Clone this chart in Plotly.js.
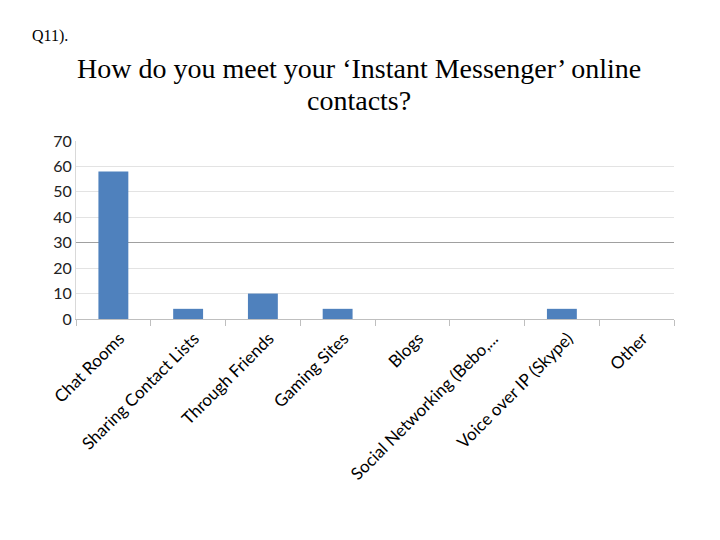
<!DOCTYPE html>
<html><head><meta charset="utf-8">
<script src="https://cdn.plot.ly/plotly-3.0.1.min.js"></script>
<style>html,body{margin:0;padding:0;background:#fff;}#chart{width:720px;height:540px;}</style>
</head><body><div id="chart"></div>
<script>
const categories = ["Chat Rooms","Sharing Contact Lists","Through Friends","Gaming Sites","Blogs","Social Networking (Bebo,...","Voice over IP (Skype)","Other"];
const counts = [58, 4, 10, 4, 0, 0, 4, 0];
const yTicks = [0,10,20,30,40,50,60,70];
const darkGridValue = 30;
const titleLines = ["How do you meet your ‘Instant Messenger’ online", "contacts?"];

const trace = {
  type: 'bar', x: categories, y: counts, width: 0.4,
  marker: {color: '#4f81bd', line: {width: 0}},
  hoverinfo: 'x+y'
};
const helper = {type: 'scatter', x: [], y: [], yaxis: 'y2', hoverinfo: 'skip', showlegend: false};
const serif = '"Liberation Serif", "Times New Roman", serif';
const layout = {
  width: 720, height: 540,
  margin: {l: 76, r: 46, t: 141, b: 221},
  paper_bgcolor: '#fff', plot_bgcolor: '#fff',
  showlegend: false,
  xaxis: {
    type: 'category', automargin: false,
    tickangle: -45, tickfont: {family: 'Lato, "Open Sans", sans-serif', size: 17, color: '#000'},
    ticklabelshift: 6, ticklabelstandoff: 2,
    showline: true, linecolor: '#bfbfbf', linewidth: 1,
    ticks: 'outside', tickson: 'boundaries', ticklen: 6, tickcolor: '#bfbfbf',
    showgrid: false, range: [-0.5, 7.5], fixedrange: true
  },
  yaxis: {
    automargin: false, range: [0, 70], tickvals: yTicks,
    tickfont: {family: 'Lato, "Open Sans", sans-serif', size: 16, color: '#222'},
    showgrid: true, gridcolor: '#e3e3e3', gridwidth: 1,
    showline: true, linecolor: '#d9d9d9', linewidth: 1,
    zeroline: false, ticks: '', ticklen: 0, fixedrange: true
  },
  yaxis2: {
    overlaying: 'y', automargin: false, range: [0, 70], tickvals: [darkGridValue],
    showticklabels: false, showgrid: true, gridcolor: '#a0a0a0', gridwidth: 1,
    showline: false, zeroline: false, ticks: '', fixedrange: true
  },
  annotations: [
    {text: 'Q11).', xref: 'paper', yref: 'paper', x: -0.085, y: 1.0, xanchor: 'left', yanchor: 'middle',
     showarrow: false, font: {family: serif, size: 16, color: '#000'},
     xshift: 5, yshift: 105},
    {text: titleLines[0], xref: 'paper', yref: 'paper',
     x: 0.474, y: 1.0, xanchor: 'center', yanchor: 'middle', yshift: 73, showarrow: false,
     font: {family: serif, size: 28, color: '#000'}},
    {text: titleLines[1], xref: 'paper', yref: 'paper',
     x: 0.474, y: 1.0, xanchor: 'center', yanchor: 'middle', yshift: 41, showarrow: false,
     font: {family: serif, size: 28, color: '#000'}}
  ]
};
Plotly.newPlot('chart', [trace, helper], layout, {displayModeBar: false, staticPlot: true});
</script></body></html>
